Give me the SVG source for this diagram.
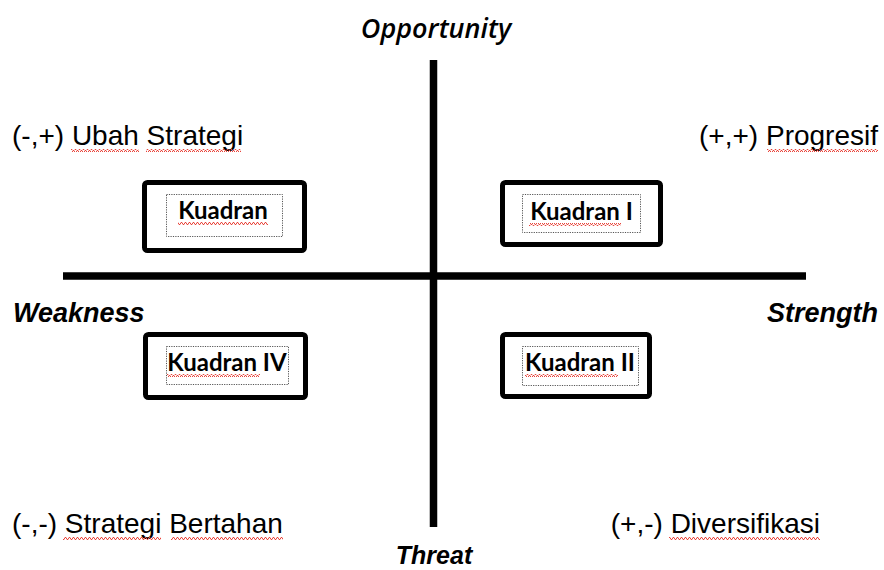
<svg xmlns="http://www.w3.org/2000/svg" width="884" height="570" viewBox="0 0 884 570">
  <defs>
    <!-- wavy red spell-check underline -->
    <pattern id="squiggle" x="0" y="0" width="4" height="3" patternUnits="userSpaceOnUse">
      <path d="M0,2.5 L1,0.5 L2,0.5 L3,2.5 L4,2.5" fill="none" stroke="#e8453c" stroke-width="1"/>
    </pattern>
    <style>
      .axis { stroke: #000; stroke-width: 7.5; }
      .box { fill: #fff; stroke: #000; stroke-width: 5; }
      .inner { fill: none; stroke: #555; stroke-width: 1; stroke-dasharray: 1.2 1.2; }
      .ktext { font-family: Lato, "Open Sans", sans-serif; font-weight: 700; font-size: 24px; fill: #000; text-anchor: middle; }
      .label { font-family: "Liberation Sans", Arial, sans-serif; font-size: 28px; fill: #000; }
      .axislabel { font-family: "Liberation Sans", Arial, sans-serif; font-weight: 700; font-style: italic; font-size: 27px; fill: #000; }
      .threat { font-size: 25px; }
      .topLabel { font-family: "Open Sans", "Noto Sans", sans-serif; font-weight: 600; font-style: italic; font-size: 27px; fill: #000; }
      .sq { fill: url(#squiggle); }
    </style>
  </defs>

  <rect width="884" height="570" fill="#fff"/>

  <!-- axes -->
  <g id="connectors">
    <line class="axis" x1="433.5" y1="60" x2="433.5" y2="527"/>
    <line class="axis" x1="63" y1="276" x2="806" y2="276"/>
  </g>

  <!-- axis labels -->
  <text class="topLabel" x="436" y="38" text-anchor="middle">Opportunity</text>
  <text class="axislabel" x="13" y="322">Weakness</text>
  <text class="axislabel" x="878" y="322" text-anchor="end">Strength</text>
  <text class="axislabel threat" x="434" y="564" text-anchor="middle">Threat</text>

  <!-- strategy labels -->
  <g id="label-ubah">
    <text class="label" x="12" y="145">(-,+) Ubah Strategi</text>
    <rect class="sq" x="71" y="149" width="68" height="3"/>
    <rect class="sq" x="146" y="149" width="95" height="3"/>
  </g>
  <g id="label-progresif">
    <text class="label" x="878" y="145" text-anchor="end">(+,+) Progresif</text>
    <rect class="sq" x="767" y="149" width="111" height="3"/>
  </g>
  <g id="label-bertahan">
    <text class="label" x="12" y="533">(-,-) Strategi Bertahan</text>
    <rect class="sq" x="63" y="537" width="98" height="3"/>
    <rect class="sq" x="171" y="537" width="112" height="3"/>
  </g>
  <g id="label-diversifikasi">
    <text class="label" x="820" y="533" text-anchor="end">(+,-) Diversifikasi</text>
    <rect class="sq" x="669" y="537" width="151" height="3"/>
  </g>

  <!-- quadrant boxes -->
  <g id="kuadran-top-left">
    <rect class="box" x="144.5" y="182.5" width="160" height="68" rx="3"/>
    <rect class="inner" x="166.5" y="194.5" width="116" height="42"/>
    <text class="ktext" x="223" y="219">Kuadran</text>
    <rect class="sq" x="178" y="222" width="90" height="3"/>
  </g>
  <g id="kuadran-1">
    <rect class="box" x="502.5" y="182.5" width="158" height="62" rx="3"/>
    <rect class="inner" x="522.5" y="194.5" width="118" height="38"/>
    <text class="ktext" x="581.5" y="220">Kuadran I</text>
    <rect class="sq" x="529" y="223" width="92" height="3"/>
  </g>
  <g id="kuadran-4">
    <rect class="box" x="145.5" y="334.5" width="160" height="63" rx="3"/>
    <rect class="inner" x="166.5" y="346.5" width="122" height="38"/>
    <text class="ktext" x="227" y="371">Kuadran IV</text>
    <rect class="sq" x="167" y="374" width="93" height="3"/>
  </g>
  <g id="kuadran-2">
    <rect class="box" x="502.5" y="334.5" width="147" height="62" rx="3"/>
    <rect class="inner" x="522.5" y="346.5" width="116" height="39"/>
    <text class="ktext" x="580" y="371">Kuadran II</text>
    <rect class="sq" x="525" y="374" width="93" height="3"/>
  </g>
</svg>
